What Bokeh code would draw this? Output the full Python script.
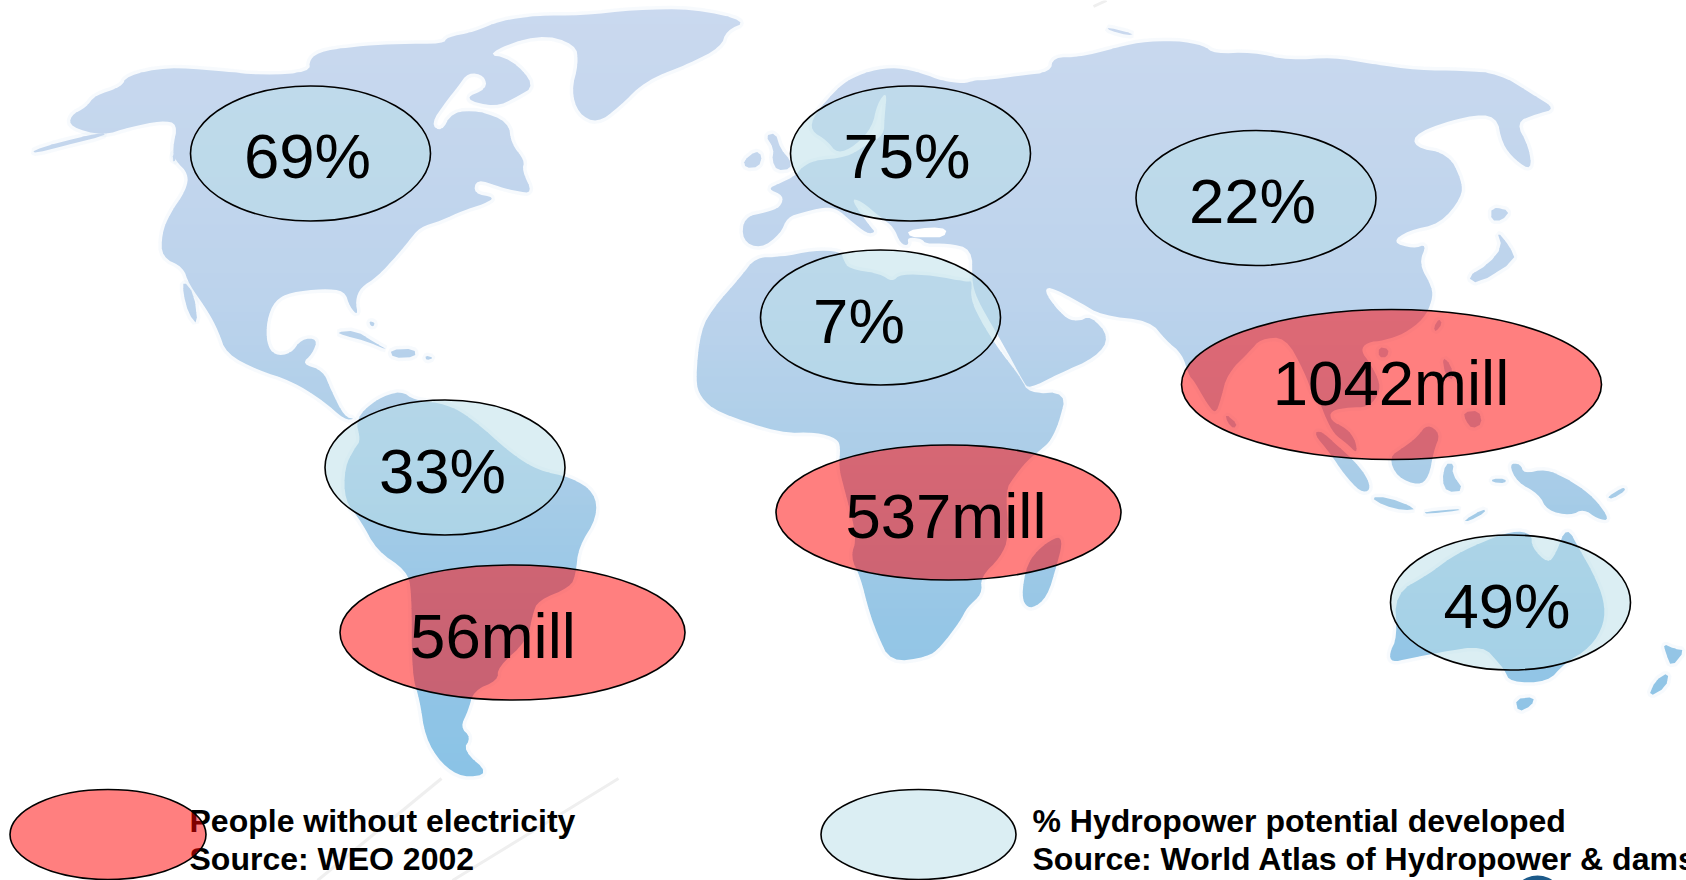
from bokeh.core.properties import value
from bokeh.embed import file_html
from bokeh.models import Range1d
from bokeh.plotting import figure
from bokeh.resources import INLINE

WIDTH, HEIGHT = 1686, 880

# Each coastline piece is traced on a local grid: (origin x, origin y, x step, y step).
NW = (0, 0, 1 / 1.86, 1 / 3)
NE = (843, 0, 1 / 1.86, 1 / 3)
SW = (0, 440, 1 / 1.86, 1 / 3)
SE = (843, 440, 1 / 1.86, 1 / 3)
ASIA = (1170, 300, 1 / 3, 1 / 3)
EUROPE = (680, 60, 1 / 3, 1 / 3)
AFRICA = (760, 430, 1 / 3, 1 / 3)


def grid(frame, pts):
    ox, oy, sx, sy = frame
    return [(ox + x * sx, oy + y * sy) for x, y in pts]


NORTH_AMERICA = grid(NW, [
    (130, 345), (160, 320), (175, 285), (225, 260), (235, 225), (310, 200), (400, 210), (490, 225),
    (575, 215), (575, 175), (600, 150), (680, 135), (740, 130), (825, 130), (830, 110), (880, 95),
    (930, 60), (1000, 45), (1080, 45), (1180, 28), (1290, 25), (1390, 62), (1350, 90), (1340, 140),
    (1280, 190), (1200, 240), (1150, 320), (1110, 368), (1075, 340), (1062, 270), (1075, 190),
    (1070, 130), (1000, 100), (900, 160), (950, 175), (995, 255), (960, 290), (920, 320), (860, 295),
    (905, 265), (900, 225), (870, 215), (850, 260), (830, 300), (800, 370), (820, 395), (840, 335),
    (890, 330), (945, 365), (950, 430), (975, 480), (970, 510), (990, 578), (960, 572), (930, 560),
    (885, 535), (880, 580), (920, 590), (900, 610), (860, 630), (820, 660), (780, 680), (760, 720),
    (740, 760), (700, 830), (670, 860), (660, 900), (665, 945), (650, 920), (640, 870), (600, 865),
    (540, 875), (510, 900), (495, 960), (495, 1030), (510, 1065), (540, 1060), (560, 1015), (590, 1015),
    (580, 1060), (560, 1090), (600, 1110), (615, 1170), (640, 1250), (660, 1255), (640, 1258),
    (600, 1200), (540, 1140), (480, 1110), (420, 1060), (405, 990), (385, 930), (350, 850), (340, 800),
    (300, 770), (300, 700), (315, 640), (345, 570), (350, 520), (325, 480), (320, 445), (330, 370),
    (300, 360), (240, 380), (190, 405), (130, 380),
])
BAJA = grid(NW, [(340, 840), (360, 880), (367, 975), (350, 940), (340, 880)])
VANCOUVER = grid(NW, [(320, 460), (330, 455), (322, 490)])
ALEUTIANS = grid(NW, [(60, 450), (110, 425), (190, 395), (195, 405), (120, 435), (65, 458)])
CUBA = grid(NW, [(625, 995), (660, 990), (700, 1030), (722, 1050), (680, 1022), (640, 1005)])
HISPANIOLA = grid(NW, [(725, 1048), (770, 1045), (772, 1070), (730, 1072)])
PUERTO_RICO = grid(NW, [(790, 1065), (806, 1072), (792, 1080)])
BAHAMAS = grid(NW, [(686, 962), (696, 966), (694, 978), (688, 975)])

SOUTH_AMERICA = grid(NW, [(660, 1255), (700, 1195), (745, 1170), (770, 1200), (830, 1210), (880, 1258)]) + grid(SW, [
    (950, 40), (1000, 90), (1060, 110), (1105, 155), (1110, 230), (1075, 320), (1070, 400), (1060, 440),
    (1000, 480), (990, 520), (980, 600), (925, 680), (925, 720), (880, 750), (870, 810), (855, 860),
    (875, 890), (860, 930), (910, 1000), (860, 1012), (820, 970), (790, 890), (780, 780), (765, 700),
    (765, 450), (755, 390), (700, 330), (670, 240), (640, 180), (640, 80), (660, 20), (670, 0),
])

EURASIA = grid(EUROPE, [
    (240, 565), (185, 540), (190, 470), (260, 455), (300, 440), (310, 405), (260, 385), (300, 368),
    (345, 345), (365, 320), (400, 300), (500, 290), (555, 255), (610, 225), (612, 170), (620, 90),
    (590, 130), (575, 200), (525, 255), (470, 280), (440, 240), (390, 210), (400, 165), (460, 95),
    (500, 60), (570, 30), (650, 20), (730, 40), (780, 60), (850, 70), (880, 60),
]) + grid(NE, [
    (260, 240), (330, 225), (385, 215), (390, 170), (440, 170), (500, 145), (550, 125), (620, 120),
    (670, 135), (690, 160), (760, 155), (830, 180), (910, 170), (980, 190), (1070, 210), (1150, 210),
    (1220, 220), (1280, 280), (1325, 325), (1290, 340), (1250, 365), (1275, 440), (1280, 510),
    (1250, 480), (1225, 430), (1215, 345), (1160, 345), (1065, 395), (1060, 440), (1125, 460),
    (1150, 540), (1150, 590), (1110, 670), (1050, 690), (1020, 725), (1060, 745), (1085, 730),
    (1070, 790), (1095, 860), (1095, 900),
]) + grid(ASIA, [
    (760, 55), (700, 100), (640, 120), (590, 125), (570, 150), (600, 190), (630, 250), (620, 290),
    (590, 320), (540, 320), (480, 330), (480, 360), (530, 385), (555, 420), (560, 460), (530, 430),
    (490, 400), (465, 350), (450, 310), (430, 290), (400, 210), (345, 110), (270, 115), (240, 150),
    (170, 220), (150, 300), (135, 340), (110, 310), (70, 240), (55, 225),
]) + grid(NE, [
    (630, 1060), (600, 1020), (570, 960), (480, 945), (440, 905), (380, 855), (375, 880), (410, 950),
    (435, 965), (460, 945), (495, 1010), (470, 1070), (400, 1120), (345, 1165), (335, 1145),
    (300, 1040), (260, 930), (245, 880),
]) + grid(EUROPE, [
    (875, 660), (875, 565), (800, 548), (735, 550), (725, 535), (680, 530), (685, 555), (660, 550),
    (640, 500), (600, 470), (540, 420), (510, 415), (570, 500), (585, 515), (560, 520), (510, 480),
    (470, 445), (430, 440), (370, 455), (320, 470), (300, 520),
])
GREAT_BRITAIN = grid(EUROPE, [(255, 225), (285, 218), (300, 265), (330, 300), (330, 325), (290, 330), (275, 300), (280, 265)])
IRELAND = grid(EUROPE, [(190, 300), (225, 272), (245, 285), (235, 320), (195, 322)])
NOVAYA_ZEMLYA = grid(NE, [(490, 80), (540, 100), (530, 105), (495, 90)])
SAKHALIN = grid(NE, [(1205, 620), (1240, 630), (1225, 660), (1205, 660)])
JAPAN = grid(NE, [(1215, 690), (1240, 740), (1250, 780), (1180, 850), (1160, 830), (1200, 790), (1225, 740)])

AFRICA_MAIN = grid(EUROPE, [
    (225, 590), (300, 590), (400, 570), (480, 572), (490, 600), (505, 625), (600, 640), (635, 665),
    (660, 640), (760, 645), (860, 665), (875, 660), (870, 715), (900, 780), (950, 860), (1020, 950),
]) + grid(NE, [(345, 1180), (415, 1175), (400, 1270), (385, 1320)]) + grid(AFRICA, [
    (850, 50), (800, 90), (760, 140), (735, 180), (745, 320), (720, 380), (660, 440), (665, 490),
    (620, 530), (600, 570), (540, 650), (500, 680), (390, 695), (350, 610), (325, 540), (300, 440),
    (270, 380), (290, 320), (250, 170), (235, 110), (240, 50), (230, 25), (170, 5), (60, 8),
]) + grid(EUROPE, [(110, 1055), (60, 1010), (45, 960), (60, 810), (100, 740), (180, 650)])
MADAGASCAR = grid(AFRICA, [(895, 315), (905, 340), (890, 400), (860, 500), (815, 535), (790, 520), (785, 480), (800, 400), (840, 350)])

SRI_LANKA = grid(ASIA, [(165, 340), (200, 370), (190, 385), (170, 365)])
TAIWAN = grid(ASIA, [(805, 55), (815, 70), (795, 95), (790, 80)])
HAINAN = grid(ASIA, [(625, 140), (655, 145), (650, 170), (625, 170)])
LUZON = grid(ASIA, [(815, 170), (840, 190), (850, 240), (825, 225)])
MINDANAO = grid(ASIA, [(880, 335), (925, 330), (935, 370), (905, 385), (885, 360)])
SUMATRA = grid(ASIA, [(430, 400), (450, 390), (495, 430), (550, 480), (590, 530), (600, 570), (570, 575), (520, 520), (480, 460)])
BORNEO = grid(ASIA, [(770, 370), (810, 400), (790, 450), (775, 530), (745, 555), (680, 530), (655, 470), (700, 440), (740, 410)])
SULAWESI = grid(ASIA, [(825, 490), (850, 490), (845, 520), (880, 570), (830, 575), (815, 540)])
JAVA = grid(ASIA, [(600, 590), (650, 590), (740, 625), (700, 630), (640, 615)])
SUNDA_WEST = grid(ASIA, [(760, 635), (860, 625), (870, 630), (770, 640)])
SUNDA_EAST = grid(ASIA, [(880, 660), (940, 625), (945, 635), (895, 662)])
CERAM = grid(ASIA, [(965, 535), (1005, 535), (1005, 548), (965, 545)])
NEW_GUINEA = grid(ASIA, [(1015, 490), (1050, 490), (1060, 520), (1125, 505), (1200, 540), (1270, 590), (1320, 660), (1280, 655), (1240, 625), (1200, 645), (1130, 630), (1105, 580), (1040, 545)])
NEW_BRITAIN = grid(SE, [(1420, 170), (1450, 140), (1455, 150), (1430, 175)])

AUSTRALIA = grid(SE, [
    (1180, 310), (1245, 270), (1280, 280), (1280, 320), (1310, 370), (1325, 340), (1345, 255),
    (1370, 330), (1395, 400), (1415, 480), (1415, 550), (1390, 620), (1340, 670), (1310, 725),
    (1240, 725), (1230, 690), (1220, 670), (1190, 615), (1110, 635), (1050, 655), (1020, 665),
    (1015, 640), (1030, 590), (1025, 460), (1090, 400), (1130, 350),
])
TASMANIA = grid(SE, [(1250, 775), (1285, 770), (1280, 795), (1255, 815)])
NZ_NORTH = grid(SE, [(1525, 610), (1545, 625), (1565, 630), (1540, 680), (1530, 640)])
NZ_SOUTH = grid(SE, [(1497, 770), (1510, 720), (1535, 695), (1530, 740)])

BLACK_SEA = grid(EUROPE, [(680, 510), (750, 500), (800, 505), (790, 530), (740, 530), (690, 530)])

LARGE_LAND = [NORTH_AMERICA, SOUTH_AMERICA, EURASIA, AFRICA_MAIN, AUSTRALIA, NEW_GUINEA, BORNEO, MADAGASCAR, SUMATRA]
SMALL_LAND = [
    BAJA, VANCOUVER, ALEUTIANS, CUBA, HISPANIOLA, PUERTO_RICO, BAHAMAS, GREAT_BRITAIN, IRELAND,
    NOVAYA_ZEMLYA, SAKHALIN, JAPAN, SRI_LANKA, TAIWAN, HAINAN, LUZON, MINDANAO, SULAWESI, JAVA,
    SUNDA_WEST, SUNDA_EAST, CERAM, NEW_BRITAIN, TASMANIA, NZ_NORTH, NZ_SOUTH,
]

# Vertical tint of the land, pale in the north and stronger in the south.
LAND_TINT_Y = [0, 50, 300, 450, 620, 780]
LAND_TINT_RGB = [(202, 217, 239), (200, 216, 238), (188, 211, 236), (172, 206, 232), (150, 198, 230), (138, 195, 230)]

# Callouts: hydropower potential developed, in percent.
HYDRO_LABELS = ["69%", "75%", "22%", "7%", "33%", "49%"]
HYDRO_X = [310, 910, 1255.5, 880, 444.5, 1510]
HYDRO_Y = [153, 153, 197.5, 317, 467, 602]
HYDRO_TEXT_X = [307, 906.5, 1252, 858.5, 442, 1506.5]
HYDRO_TEXT_Y = [155, 155, 200, 320, 470, 605]

# Callouts: people without electricity, in millions.
PEOPLE_LABELS = ["1042mill", "537mill", "56mill"]
PEOPLE_X = [1391, 948, 512]
PEOPLE_Y = [384, 512, 632]
PEOPLE_W = [420, 345, 345]
PEOPLE_TEXT_X = [1390.5, 945.5, 492.5]
PEOPLE_TEXT_Y = [382, 515, 635]

LEGEND_LINES = ["People without electricity", "Source: WEO 2002", "% Hydropower potential developed", "Source: World Atlas of Hydropower & dams"]
LEGEND_X = [189, 189, 1032, 1032]
LEGEND_Y = [820, 858, 820, 858]

# Faint diagonal strokes of the slide backdrop.
STREAKS_X = [[441, 317], [618, 452], [1093, 1106]]
STREAKS_Y = [[778, 880], [778, 880], [6, 0]]


def smooth(poly, rounds):
    """Corner cutting, so traced coasts keep no hard vertices."""
    for _ in range(rounds):
        out = []
        for i, (x1, y1) in enumerate(poly):
            x0, y0 = poly[i - 1]
            out.append((0.75 * x0 + 0.25 * x1, 0.75 * y0 + 0.25 * y1))
            out.append((0.25 * x0 + 0.75 * x1, 0.25 * y0 + 0.75 * y1))
        poly = out
    return poly


def tint(y):
    for i in range(len(LAND_TINT_Y) - 1):
        y0, y1 = LAND_TINT_Y[i], LAND_TINT_Y[i + 1]
        if y <= y1:
            t = (y - y0) / (y1 - y0)
            a, b = LAND_TINT_RGB[i], LAND_TINT_RGB[i + 1]
            return "#%02x%02x%02x" % tuple(round(a[k] + (b[k] - a[k]) * t) for k in range(3))
    return "#%02x%02x%02x" % LAND_TINT_RGB[-1]


def clip_edge(poly, limit, keep_below):
    """Keep the part of a polygon on one side of a horizontal line."""
    out = []
    inside = (lambda y: y >= limit) if keep_below else (lambda y: y <= limit)
    for i, (x1, y1) in enumerate(poly):
        x0, y0 = poly[i - 1]
        if inside(y0) != inside(y1):
            t = (limit - y0) / (y1 - y0)
            out.append((x0 + (x1 - x0) * t, limit))
        if inside(y1):
            out.append((x1, y1))
    return out


p = figure(width=WIDTH, height=HEIGHT, output_backend="svg", toolbar_location=None,
           x_range=Range1d(0, WIDTH), y_range=Range1d(HEIGHT, 0), min_border=0,
           background_fill_color="white", border_fill_color="white", outline_line_color=None)
p.axis.visible = False
p.grid.visible = False

p.multi_line(STREAKS_X, STREAKS_Y, line_color="#efefef", line_width=3)

land = [smooth(s, 2) for s in LARGE_LAND] + [smooth(s, 1) for s in SMALL_LAND]

# Soft pale rim round the coasts.
p.patches([[q[0] for q in s] for s in land], [[q[1] for q in s] for s in land],
          fill_alpha=0, line_color="#dce8f4", line_alpha=0.22, line_width=7)

# Land is painted in thin horizontal bands to carry the vertical tint.
band_xs, band_ys, band_colors = [], [], []
BAND = 8
for top in range(0, 780, BAND):
    for shape in land:
        piece = clip_edge(clip_edge(shape, top, True), min(top + BAND + 0.6, 778), False)
        if len(piece) >= 3:
            band_xs.append([q[0] for q in piece])
            band_ys.append([q[1] for q in piece])
            band_colors.append(tint(top + BAND / 2))
p.patches(band_xs, band_ys, fill_color=band_colors, line_color=None)
sea = smooth(BLACK_SEA, 1)
p.patch([q[0] for q in sea], [q[1] for q in sea], fill_color="white", line_color=None)

# Legend texts sit under the legend ellipses.
p.text(LEGEND_X, LEGEND_Y, text=LEGEND_LINES, text_font=value("Liberation Sans"), text_font_style="bold",
       text_font_size="32px", text_color="black", text_align="left", text_baseline="middle")

OUTLINE = dict(line_color="black", line_width=1.6)
p.ellipse(HYDRO_X, HYDRO_Y, width=240, height=135, fill_color="#b7dde8", fill_alpha=0.5, **OUTLINE)
p.ellipse(PEOPLE_X, PEOPLE_Y, width=PEOPLE_W, height=[150, 135, 135], fill_color="#ff0000", fill_alpha=0.5, **OUTLINE)
p.ellipse([107.5], [834], width=196, height=90, fill_color="#ff0000", fill_alpha=0.5, **OUTLINE)
p.ellipse([918], [834], width=195, height=90, fill_color="#b7dde8", fill_alpha=0.5, **OUTLINE)
p.ellipse([1537], [905], width=56, height=60, fill_color="#1c5a8a", line_color=None)

p.text(HYDRO_TEXT_X, HYDRO_TEXT_Y, text=HYDRO_LABELS, text_font=value("Liberation Sans"),
       text_font_size="63.5px", text_color="black", text_align="center", text_baseline="middle")
p.text(PEOPLE_TEXT_X, PEOPLE_TEXT_Y, text=PEOPLE_LABELS, text_font=value("Liberation Sans"),
       text_font_size="63.5px", text_color="black", text_align="center", text_baseline="middle")

open("out.html", "w").write(file_html(p, INLINE))
